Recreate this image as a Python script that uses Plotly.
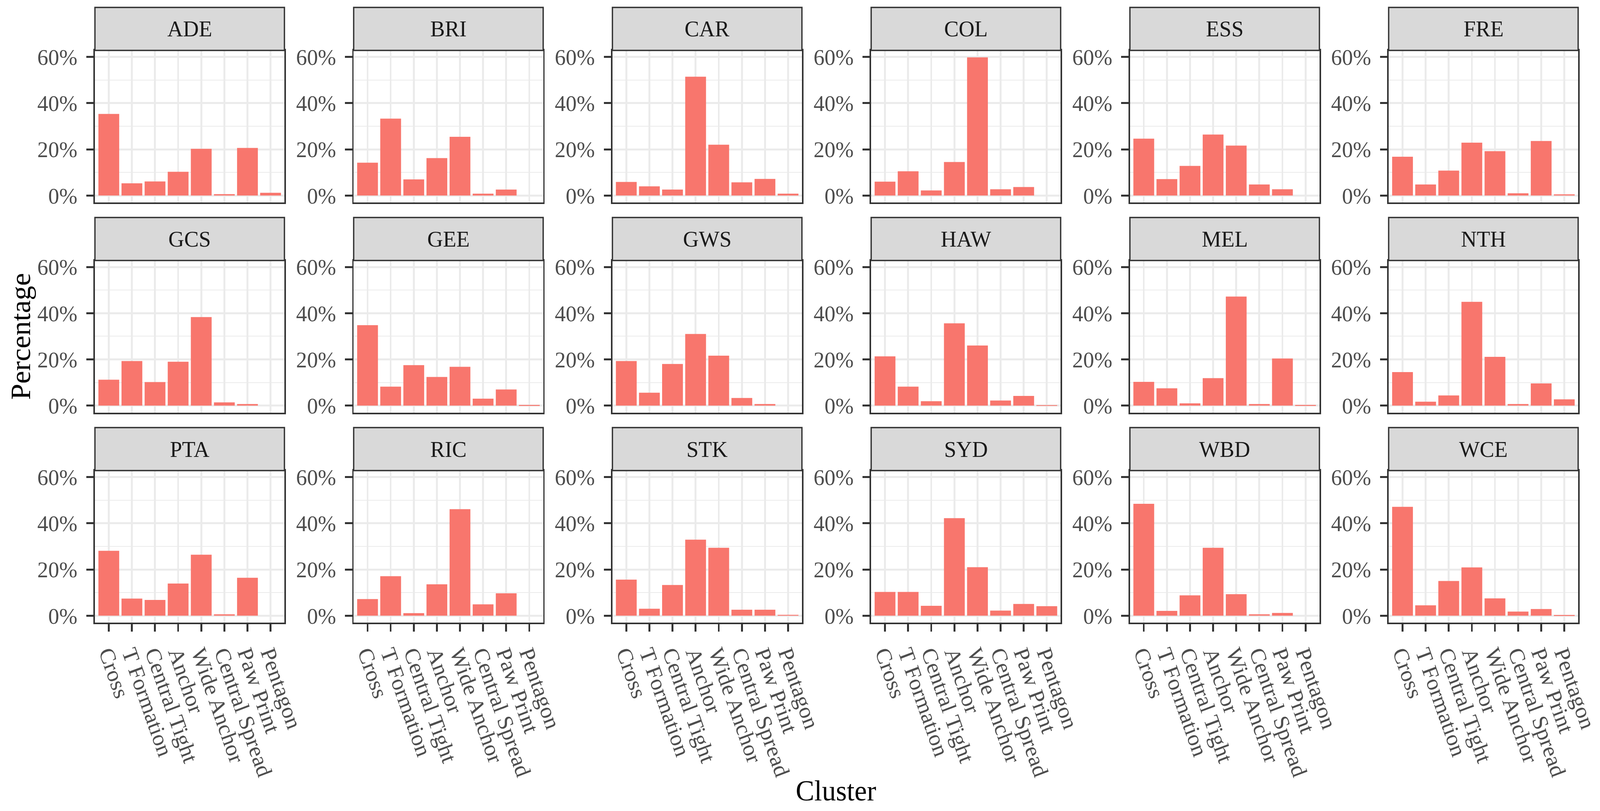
import plotly.graph_objects as go

# ---------------- data ----------------
categories = ["Cross", "T Formation", "Central Tight", "Anchor", "Wide Anchor",
              "Central Spread", "Paw Print", "Pentagon"]
y_ticks = [0, 20, 40, 60]
y_tick_labels = ["0%", "20%", "40%", "60%"]
y_minor = [10, 30, 50]

teams = ["ADE", "BRI", "CAR", "COL", "ESS", "FRE",
         "GCS", "GEE", "GWS", "HAW", "MEL", "NTH",
         "PTA", "RIC", "STK", "SYD", "WBD", "WCE"]

ADE = [35.3, 5.3, 6.1, 10.3, 20.2, 0.6, 20.6, 1.2]
BRI = [14.2, 33.3, 7.0, 16.2, 25.4, 0.8, 2.6, 0]
CAR = [5.9, 4.0, 2.6, 51.4, 22.0, 5.7, 7.2, 0.8]
COL = [6.0, 10.5, 2.2, 14.5, 59.8, 2.7, 3.7, 0]
ESS = [24.6, 7.1, 12.8, 26.4, 21.6, 4.8, 2.7, 0]
FRE = [16.8, 4.8, 10.8, 22.9, 19.2, 1.0, 23.6, 0.5]
GCS = [11.2, 19.3, 10.2, 19.0, 38.3, 1.4, 0.7, 0]
GEE = [34.8, 8.2, 17.5, 12.4, 16.8, 3.0, 7.0, 0.3]
GWS = [19.3, 5.6, 18.0, 31.0, 21.6, 3.3, 0.7, 0]
HAW = [21.3, 8.2, 1.9, 35.6, 26.0, 2.2, 4.2, 0.2]
MEL = [10.3, 7.5, 1.0, 11.9, 47.2, 0.7, 20.4, 0.3]
NTH = [14.5, 1.7, 4.4, 44.9, 21.1, 0.7, 9.6, 2.7]
PTA = [28.1, 7.4, 6.8, 13.9, 26.4, 0.6, 16.4, 0]
RIC = [7.2, 17.1, 1.1, 13.6, 46.1, 4.9, 9.7, 0]
STK = [15.6, 3.0, 13.3, 32.9, 29.4, 2.6, 2.6, 0.4]
SYD = [10.3, 10.3, 4.3, 42.2, 21.0, 2.2, 5.1, 4.1]
WBD = [48.4, 2.1, 8.8, 29.4, 9.3, 0.6, 1.2, 0]
WCE = [47.1, 4.5, 15.0, 20.9, 7.5, 1.8, 2.9, 0.3]

team_values = [ADE, BRI, CAR, COL, ESS, FRE, GCS, GEE, GWS, HAW, MEL, NTH,
               PTA, RIC, STK, SYD, WBD, WCE]

# ---------------- layout ----------------
W, H = 4247, 2075
FONT = "Liberation Serif"
BAR = "#F8766D"
GRID = "#EBEBEB"
BORDER = "#333333"
TICKTXT = "#4D4D4D"

COL_X0, COL_PITCH, PANEL_W = 252, 686.8, 503
ROW_PITCH = 537.5
STRIP_TOP, PANEL_TOP, PANEL_BOT = 19, 129, 518

fig = go.Figure()
layout = dict(
    width=W, height=H,
    margin=dict(l=0, r=0, t=0, b=0),
    paper_bgcolor="white", plot_bgcolor="white",
    showlegend=False,
    font=dict(family=FONT, size=58, color=TICKTXT),
)
shapes = []
annotations = []

ymax = max(max(v) for v in team_values)
ypad = 0.05 * ymax
yrange = [-ypad, ymax + ypad]

for i, (team, vals) in enumerate(zip(teams, team_values)):
    r, c = divmod(i, 6)
    sfx = "" if i == 0 else str(i + 1)
    x0 = COL_X0 + c * COL_PITCH
    x1 = x0 + PANEL_W
    ytop = PANEL_TOP + r * ROW_PITCH
    ybot = PANEL_BOT + r * ROW_PITCH
    stop = STRIP_TOP + r * ROW_PITCH

    fig.add_trace(go.Bar(
        x=categories, y=vals, xaxis="x" + sfx, yaxis="y" + sfx,
        marker=dict(color=BAR, line=dict(width=0)), width=0.9,
        showlegend=False, hovertemplate="%{x}: %{y}%<extra>" + team + "</extra>",
    ))

    bottom_row = (r == 2)
    layout["xaxis" + sfx] = dict(
        domain=[x0 / W, x1 / W], anchor="y" + sfx,
        type="category", categoryorder="array", categoryarray=categories,
        tickmode="array", tickvals=categories, ticktext=categories,
        range=[-0.6, len(categories) - 0.4],
        showgrid=True, gridcolor=GRID, gridwidth=4.5, zeroline=False,
        showline=True, mirror=True, linecolor=BORDER, linewidth=4,
        ticks="outside" if bottom_row else "", ticklen=19, tickwidth=4.5,
        tickcolor=BORDER,
        showticklabels=bottom_row, tickangle=70,
        tickfont=dict(family=FONT, size=58, color=TICKTXT),
        automargin=False, fixedrange=True,
    )
    layout["yaxis" + sfx] = dict(
        domain=[1 - ybot / H, 1 - ytop / H], anchor="x" + sfx,
        range=yrange, tickmode="array", tickvals=y_ticks, ticktext=y_tick_labels,
        showgrid=True, gridcolor=GRID, gridwidth=4.5, zeroline=False,
        minor=dict(tickmode="array", tickvals=y_minor, showgrid=True,
                   gridcolor=GRID, gridwidth=2.2, ticks=""),
        showline=True, mirror=True, linecolor=BORDER, linewidth=4,
        ticks="outside", ticklen=19, tickwidth=4.5, tickcolor=BORDER,
        ticklabelstandoff=12,
        tickfont=dict(family=FONT, size=58, color=TICKTXT),
        automargin=False, fixedrange=True,
    )
    shapes.append(dict(
        type="rect", xref="paper", yref="paper",
        x0=x0 / W, x1=x1 / W, y0=1 - ytop / H, y1=1 - stop / H,
        fillcolor="#D9D9D9", line=dict(color=BORDER, width=3.5), layer="above",
    ))
    annotations.append(dict(
        text=team, xref="paper", yref="paper",
        x=(x0 + x1) / 2 / W, y=1 - (stop + ytop) / 2 / H,
        xanchor="center", yanchor="middle", showarrow=False,
        font=dict(family=FONT, size=58, color="#1A1A1A"),
    ))

# axis titles
annotations.append(dict(
    text="Percentage", xref="paper", yref="paper",
    x=55 / W, y=1 - 861 / H, textangle=-90,
    xanchor="center", yanchor="middle", showarrow=False,
    font=dict(family=FONT, size=74, color="black"),
))
annotations.append(dict(
    text="Cluster", xref="paper", yref="paper",
    x=2219 / W, y=1 - 2023 / H,
    xanchor="center", yanchor="middle", showarrow=False,
    font=dict(family=FONT, size=74, color="black"),
))

layout["shapes"] = shapes
layout["annotations"] = annotations
fig.update_layout(**layout)

# stretch the fixed-size figure so it fills the real viewport exactly
post = (
    "var gd=document.getElementById('{plot_id}');"
    "document.documentElement.style.margin='0';"
    "document.documentElement.style.overflow='hidden';"
    "document.body.style.margin='0';"
    "document.body.style.overflow='hidden';"
    "var sx=window.innerWidth/%d, sy=window.innerHeight/%d;"
    "gd.style.transformOrigin='0 0';"
    "gd.style.transform='scale('+sx+','+sy+')';" % (W, H)
)
fig.write_html(
    "out.html",
    config={"displayModeBar": False},
    post_script=post,
)
